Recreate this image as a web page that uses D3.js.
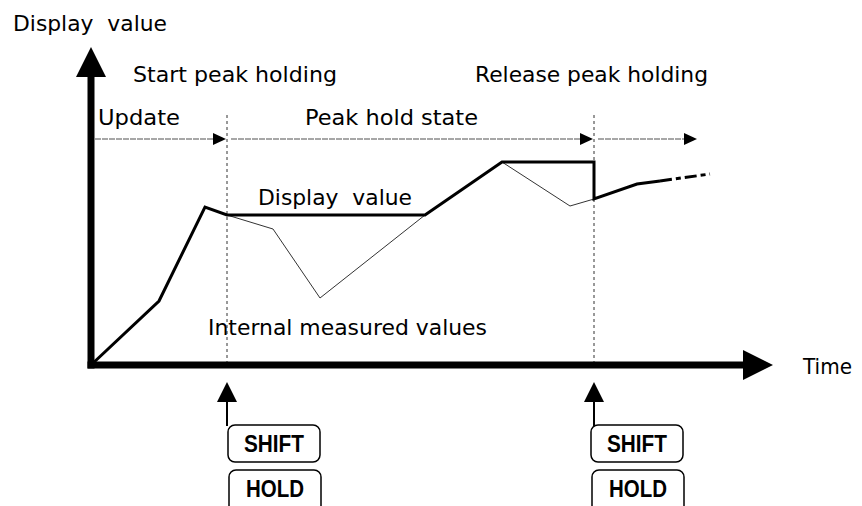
<!DOCTYPE html>
<html>
<head>
<meta charset="utf-8">
<script src="https://cdn.jsdelivr.net/npm/d3@7/dist/d3.min.js"></script>
<style>
  html, body { margin: 0; padding: 0; background: #fff; }
  svg { display: block; }
  text { font-family: "DejaVu Sans", sans-serif; fill: #000; white-space: pre; }
  text.key { font-family: "Liberation Sans", Arial, sans-serif; font-weight: bold; }
</style>
</head>
<body>
<svg id="chart" width="862" height="506"></svg>
<script>
// ---- data (time units, value units) ----
const displayTimes   = [0, 34, 57, 68, 167, 205.5, 251.5, 251.5, 273, 284.5];
const displayValues  = [0, 32, 79, 75, 75, 101.5, 101.5, 83, 90.5, 92];
const displayTailTimes  = [284.5, 309.5];
const displayTailValues = [92, 95.5];
const internalTimes  = [68, 91, 114.5, 167, 205.5, 239.5, 251.5];
const internalValues = [75, 68, 33.5, 75, 101.5, 79.5, 83];
const eventTimes  = [68, 251.5];            // SHIFT+HOLD pressed
const eventLabels = ["Start peak holding", "Release peak holding"];
const phaseLabels = ["Update", "Peak hold state", ""];
const phaseStarts = [0, 68, 251.5];
const phaseEnds   = [68, 251.5, 303.5];
const keyLabels   = ["SHIFT", "HOLD"];

const svg = d3.select("#chart");
const x = d3.scaleLinear().domain([0, 340]).range([91, 771]);
const y = d3.scaleLinear().domain([0, 160]).range([365, 45]);

function tri(tipX, tipY, len, half, dir) {
  if (dir === "right") return `M${tipX},${tipY} L${tipX-len},${tipY-half} L${tipX-len},${tipY+half} Z`;
  if (dir === "up") return `M${tipX},${tipY} L${tipX-half},${tipY+len} L${tipX+half},${tipY+len} Z`;
}

// ---- event dashed verticals ----
svg.selectAll("line.evt").data(eventTimes).join("line")
  .attr("class", "evt")
  .attr("x1", d => x(d)).attr("x2", d => x(d))
  .attr("y1", 115).attr("y2", y(0))
  .attr("stroke", "#333").attr("stroke-width", 1)
  .attr("stroke-dasharray", "3,3");

// ---- phase arrows ----
const phaseY = 139;
const phases = phaseLabels.map((l, i) => ({label: l, s: phaseStarts[i], e: phaseEnds[i]}));
svg.selectAll("line.phase").data(phases).join("line")
  .attr("class", "phase")
  .attr("x1", d => x(d.s) + 4).attr("x2", d => x(d.e) - 10)
  .attr("y1", phaseY).attr("y2", phaseY)
  .attr("stroke", "#8a8a8a").attr("stroke-width", 1.5)
  .attr("stroke-dasharray", "6,1");
svg.selectAll("path.phaseHead").data(phases).join("path")
  .attr("class", "phaseHead")
  .attr("d", d => tri(x(d.e) - 1, phaseY, 13, 6, "right"))
  .attr("fill", "#000");

const FS = "22px";
const phaseText = [
  {i: 0, x: 98, len: 82},
  {i: 1, x: 305, len: 173}
];
svg.selectAll("text.phaseLbl").data(phaseText).join("text")
  .attr("class", "phaseLbl")
  .attr("x", d => d.x).attr("y", 125)
  .attr("textLength", d => d.len).attr("lengthAdjust", "spacingAndGlyphs")
  .style("font-size", FS)
  .text(d => phaseLabels[d.i]);

const evtText = [
  {i: 0, x: 133, len: 204},
  {i: 1, x: 475, len: 233}
];
svg.selectAll("text.evtLbl").data(evtText).join("text")
  .attr("class", "evtLbl")
  .attr("x", d => d.x).attr("y", 82)
  .attr("textLength", d => d.len).attr("lengthAdjust", "spacingAndGlyphs")
  .style("font-size", FS)
  .text(d => eventLabels[d.i]);

// ---- lines ----
const line = d3.line().x(d => x(d[0])).y(d => y(d[1]));
const internalPts = internalTimes.map((t, i) => [t, internalValues[i]]);
const displayPts  = displayTimes.map((t, i) => [t, displayValues[i]]);
const tailPts     = displayTailTimes.map((t, i) => [t, displayTailValues[i]]);

svg.append("path").datum(internalPts)
  .attr("d", line).attr("fill", "none")
  .attr("stroke", "#333").attr("stroke-width", 1);

svg.append("path").datum(displayPts)
  .attr("d", line).attr("fill", "none")
  .attr("stroke", "#000").attr("stroke-width", 3)
  .attr("stroke-linejoin", "miter");

svg.append("path").datum(tailPts)
  .attr("d", line).attr("fill", "none")
  .attr("stroke", "#000").attr("stroke-width", 3)
  .attr("stroke-dasharray", "12,4,5,4");

// ---- axes ----
svg.append("line")
  .attr("x1", x(0)).attr("x2", x(0))
  .attr("y1", y(0) + 3.5).attr("y2", y(144))
  .attr("stroke", "#000").attr("stroke-width", 7);
svg.append("path").attr("d", tri(x(0), y(159), 30, 15, "up")).attr("fill", "#000");

svg.append("line")
  .attr("x1", x(0) - 3.5).attr("x2", x(326))
  .attr("y1", y(0)).attr("y2", y(0))
  .attr("stroke", "#000").attr("stroke-width", 7);
svg.append("path").attr("d", tri(x(341), y(0), 30, 15, "right")).attr("fill", "#000");

// axis titles
svg.append("text").attr("x", 13).attr("y", 31)
  .attr("textLength", 154).attr("lengthAdjust", "spacingAndGlyphs")
  .style("font-size", FS).text("Display  value");
svg.append("text").attr("x", 803).attr("y", 374)
  .attr("textLength", 49).attr("lengthAdjust", "spacingAndGlyphs")
  .style("font-size", FS).text("Time");

// line labels
svg.append("text").attr("x", 258).attr("y", 205)
  .attr("textLength", 154).attr("lengthAdjust", "spacingAndGlyphs")
  .style("font-size", FS).text("Display  value");
svg.append("text").attr("x", 208).attr("y", 335)
  .attr("textLength", 279).attr("lengthAdjust", "spacingAndGlyphs")
  .style("font-size", FS).text("Internal measured values");

// ---- key press indicators ----
const keys = svg.selectAll("g.key").data(eventTimes).join("g").attr("class", "key");
keys.append("line")
  .attr("x1", d => x(d)).attr("x2", d => x(d))
  .attr("y1", 400).attr("y2", 426)
  .attr("stroke", "#000").attr("stroke-width", 2);
keys.append("path")
  .attr("d", d => tri(x(d), 382, 20, 10, "up")).attr("fill", "#000");

const boxOff = [1, -3];
keys.each(function(d, i) {
  const g = d3.select(this);
  const bx = x(d) + boxOff[i];
  const bw = 92;
  g.append("rect").attr("x", bx).attr("y", 425).attr("width", bw).attr("height", 37)
    .attr("rx", 7).attr("fill", "#fff").attr("stroke", "#000").attr("stroke-width", 1.5);
  g.append("rect").attr("x", bx + 1).attr("y", 470).attr("width", bw).attr("height", 50)
    .attr("rx", 7).attr("fill", "#fff").attr("stroke", "#000").attr("stroke-width", 1.5);
  g.append("text").attr("class", "key").attr("x", bx + bw / 2).attr("y", 452)
    .attr("text-anchor", "middle")
    .attr("textLength", 60).attr("lengthAdjust", "spacingAndGlyphs")
    .style("font-size", "23.5px").text(keyLabels[0]);
  g.append("text").attr("class", "key").attr("x", bx + 1 + bw / 2).attr("y", 497)
    .attr("text-anchor", "middle")
    .attr("textLength", 58).attr("lengthAdjust", "spacingAndGlyphs")
    .style("font-size", "23.5px").text(keyLabels[1]);
});
</script>
</body>
</html>
